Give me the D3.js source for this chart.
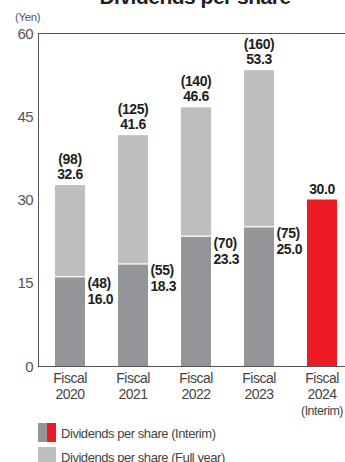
<!DOCTYPE html>
<html>
<head>
<meta charset="utf-8">
<script src="https://cdn.jsdelivr.net/npm/d3@7"></script>
<style>
  html, body { margin: 0; padding: 0; background: #fff; }
  svg { display: block; }
  text { font-family: "Liberation Sans", Arial, sans-serif; }
</style>
</head>
<body>
<div id="chart"></div>
<script>
// Dividends per share, fiscal 2020-2024 (yen)
const categories = ["2020", "2021", "2022", "2023", "2024"];
const categoryLines = [
  ["Fiscal", "2020"],
  ["Fiscal", "2021"],
  ["Fiscal", "2022"],
  ["Fiscal", "2023"],
  ["Fiscal", "2024", "(Interim)"]
];
const interim = [16.0, 18.3, 23.3, 25.0, 30.0];
const fullYear = [32.6, 41.6, 46.6, 53.3, null];
const interimPreSplit = ["(48)", "(55)", "(70)", "(75)", null];
const fullYearPreSplit = ["(98)", "(125)", "(140)", "(160)", null];
const yTicks = [0, 15, 30, 45, 60];
const legendLabels = ["Dividends per share (Interim)", "Dividends per share (Full year)"];

const W = 345, H = 462;
const C = { light: "#bcbec0", dark: "#939598", red: "#ed1c24", text: "#231f20", axis: "#555555" };

const svg = d3.select("#chart").append("svg").attr("width", W).attr("height", H);

const x = d3.scaleBand().domain(categories).range([38.5, 353.5])
  .paddingInner(0.524).paddingOuter(0.262);
const y = d3.scaleLinear().domain([0, 60]).range([366, 33]);

// Title (top of the canvas)
svg.append("text").attr("x", 195).attr("y", 4).attr("text-anchor", "middle")
  .attr("font-size", 21).attr("font-weight", "bold").attr("letter-spacing", -0.5)
  .attr("fill", C.text).text("Dividends per share");

// Unit label
svg.append("text").attr("x", 15).attr("y", 21).attr("font-size", 11.5)
  .attr("letter-spacing", -0.4).attr("fill", "#555").text("(Yen)");

// Y tick labels
svg.append("g").selectAll("text").data(yTicks).join("text")
  .attr("x", 33).attr("y", d => y(d) + 5.5).attr("text-anchor", "end")
  .attr("font-size", 15).attr("letter-spacing", -0.6).attr("fill", "#555")
  .text(d => d);

// Bars
const idx = d3.range(categories.length);
const g = svg.append("g");

// Full-year totals (behind)
g.selectAll("rect.full").data(idx.filter(i => fullYear[i] != null)).join("rect")
  .attr("class", "full")
  .attr("x", i => x(categories[i])).attr("width", x.bandwidth())
  .attr("y", i => y(fullYear[i])).attr("height", i => y(0) - y(fullYear[i]))
  .attr("fill", C.light);

// Interim portions
g.selectAll("rect.int").data(idx).join("rect")
  .attr("class", "int")
  .attr("x", i => x(categories[i])).attr("width", x.bandwidth())
  .attr("y", i => y(interim[i])).attr("height", i => y(0) - y(interim[i]))
  .attr("fill", i => fullYear[i] == null ? C.red : C.dark);

// White separator between interim and full-year segments
g.selectAll("line.sep").data(idx.filter(i => fullYear[i] != null)).join("line")
  .attr("class", "sep")
  .attr("x1", i => x(categories[i])).attr("x2", i => x(categories[i]) + x.bandwidth())
  .attr("y1", i => y(interim[i]) - 0.5).attr("y2", i => y(interim[i]) - 0.5)
  .attr("stroke", "#fff").attr("stroke-width", 1.2);

// Axis frame: left, top and baseline
const ax = svg.append("g").attr("stroke", C.axis).attr("stroke-width", 1).attr("fill", "none");
ax.append("line").attr("x1", 38.5).attr("x2", 38.5).attr("y1", y(60)).attr("y2", y(0) + 0.5);
ax.append("line").attr("x1", 38).attr("x2", W).attr("y1", y(60) + 0.5).attr("y2", y(60) + 0.5);
ax.append("line").attr("x1", 38).attr("x2", W).attr("y1", y(0) + 0.5).attr("y2", y(0) + 0.5);

// Value labels
const lbl = svg.append("g").attr("font-size", 14).attr("font-weight", "bold")
  .attr("letter-spacing", -0.4).attr("fill", C.text);

idx.filter(i => fullYear[i] != null).forEach(i => {
  const cx = x(categories[i]) + x.bandwidth() / 2;
  const top = y(fullYear[i]);
  lbl.append("text").attr("x", cx).attr("y", top - 21).attr("text-anchor", "middle").text(fullYearPreSplit[i]);
  lbl.append("text").attr("x", cx).attr("y", top - 6).attr("text-anchor", "middle").text(fullYear[i].toFixed(1));
  const ix = x(categories[i]) + x.bandwidth() + 2.5;
  const itop = y(interim[i]);
  lbl.append("text").attr("x", ix).attr("y", itop + 11).text(interimPreSplit[i]);
  lbl.append("text").attr("x", ix).attr("y", itop + 27).text(interim[i].toFixed(1));
});
idx.filter(i => fullYear[i] == null).forEach(i => {
  const cx = x(categories[i]) + x.bandwidth() / 2;
  lbl.append("text").attr("x", cx).attr("y", y(interim[i]) - 6).attr("text-anchor", "middle")
    .text(interim[i].toFixed(1));
});

// Category labels
const xl = svg.append("g").attr("font-size", 14).attr("letter-spacing", -0.5).attr("fill", "#444");
categoryLines.forEach((lines, i) => {
  const cx = x(categories[i]) + x.bandwidth() / 2;
  lines.forEach((t, k) => {
    xl.append("text").attr("x", cx).attr("y", 383 + k * 16)
      .attr("text-anchor", "middle")
      .attr("font-size", k === 2 ? 12.5 : 14)
      .text(t);
  });
});

// Legend
const lg = svg.append("g");
lg.append("rect").attr("x", 38).attr("y", 423).attr("width", 9).attr("height", 19).attr("fill", C.dark);
lg.append("rect").attr("x", 47).attr("y", 423).attr("width", 9).attr("height", 19).attr("fill", C.red);
lg.append("rect").attr("x", 38).attr("y", 447).attr("width", 18).attr("height", 19).attr("fill", C.light);
lg.selectAll("text").data(legendLabels).join("text")
  .attr("x", 61).attr("y", (d, k) => 437.5 + k * 24)
  .attr("font-size", 13).attr("letter-spacing", -0.45).attr("fill", "#444")
  .text(d => d);
</script>
</body>
</html>
